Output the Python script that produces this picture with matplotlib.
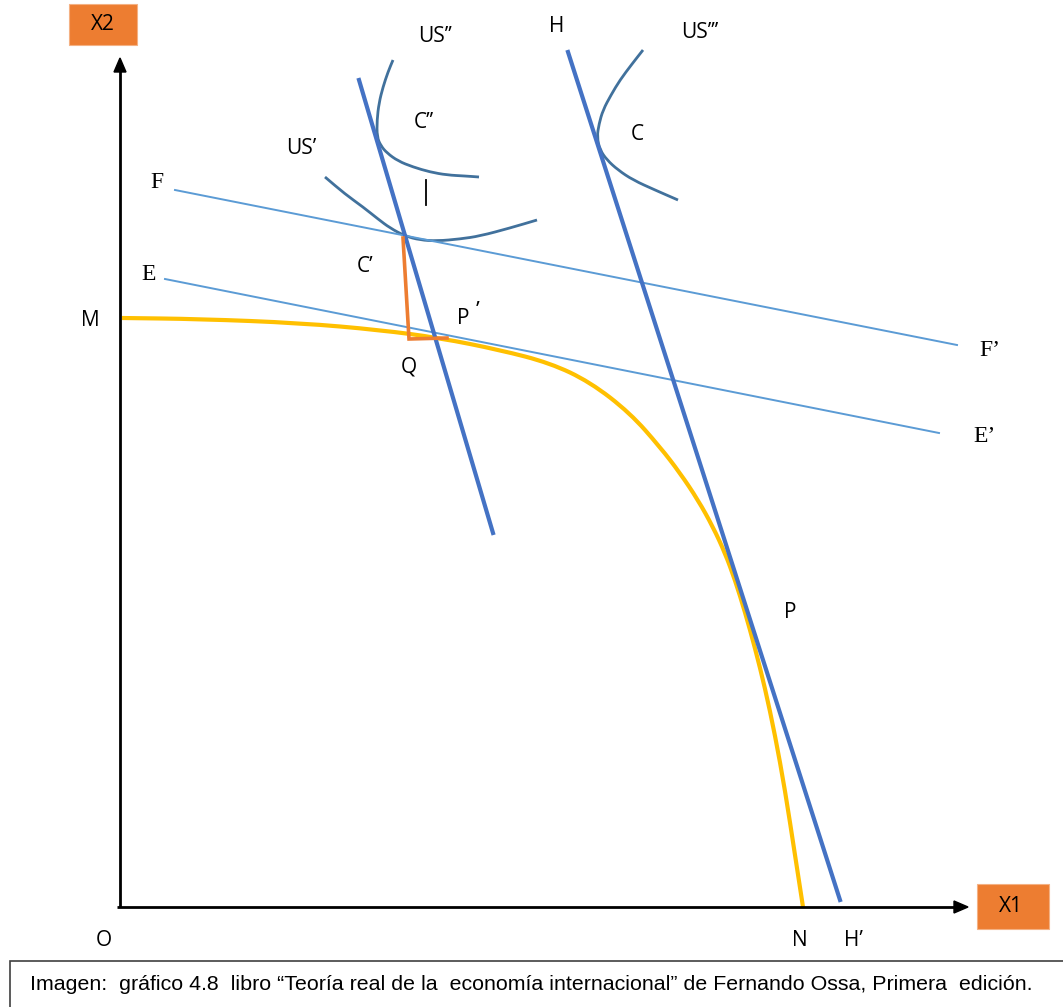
import matplotlib
matplotlib.use("Agg")
import matplotlib.pyplot as plt
from matplotlib.patches import Rectangle, PathPatch
from matplotlib.path import Path

# ---- data (pixel coordinates, y downward) ----
ppf_x = [122, 200, 300, 380, 440, 500, 550, 590, 630, 660, 680, 698, 713, 725, 735, 745, 755, 765, 775, 785, 795, 803]
ppf_y = [318, 319, 323, 330, 338, 350, 363, 382, 413, 447, 473, 500, 527, 553, 580, 612, 648, 688, 735, 790, 855, 907]

hh_x = [568, 840]
hh_y = [52, 900]
left_x = [359, 493]
left_y = [80, 533]

ff_x = [175, 957]
ff_y = [190, 345]
ee_x = [165, 939]
ee_y = [279, 433]

us1_x = [325, 345, 363, 378, 390, 405, 420, 437, 460, 480, 510, 537]
us1_y = [177, 194, 207, 219, 228, 236, 240, 241, 239, 236, 228, 220]
us2_x = [393, 388, 383, 379, 377, 377, 381, 387, 398, 413, 430, 447, 465, 479]
us2_y = [60, 72, 87, 103, 120, 137, 146, 153, 161, 167, 172, 175, 176, 177]
us3_x = [643, 632, 620, 611, 603, 599, 597, 600, 607, 618, 633, 655, 678]
us3_y = [50, 64, 80, 95, 110, 124, 137, 150, 160, 170, 180, 190, 200]

orange_x = [403, 409, 447]
orange_y = [238, 339, 338]

tick_x = [426, 426]
tick_y = [180, 205]

labels = [
    ("US\u2019\u2019", 435, 37), ("H", 557, 27), ("US\u2019\u2019\u2019", 700, 33),
    ("C\u2019\u2019", 424, 123), ("US\u2019", 301, 148), ("C", 637, 134),
    ("C\u2019", 365, 267), ("M", 90, 320), ("P", 463, 319), ("Q", 409, 367),
    ("P", 790, 612), ("O", 104, 940), ("N", 800, 940), ("H\u2019", 853, 940),
]
serif_labels = [("F", 157, 183), ("E", 149, 275), ("F\u2019", 990, 350), ("E\u2019", 984, 436)]
caption = "Imagen:  gr\u00e1fico 4.8  libro \u201cTeor\u00eda real de la  econom\u00eda internacional\u201d de Fernando Ossa, Primera  edici\u00f3n."

LABEL_FONT = ["Open Sans", "DejaVu Sans"]

W, H = 1063, 1007
fig = plt.figure(figsize=(W / 100, H / 100), dpi=100)
ax = fig.add_axes([0, 0, 1, 1])
ax.set_xlim(0, W)
ax.set_ylim(H, 0)
ax.axis("off")


def smooth(xs, ys, **kw):
    """Quadratic-Bezier path using the read points as its control polygon."""
    pts = list(zip(xs, ys))
    verts = [pts[0]]
    codes = [Path.MOVETO]
    mid = lambda a, b: ((a[0] + b[0]) / 2, (a[1] + b[1]) / 2)
    verts.append(mid(pts[0], pts[1]))
    codes.append(Path.LINETO)
    for i in range(1, len(pts) - 1):
        verts += [pts[i], mid(pts[i], pts[i + 1])]
        codes += [Path.CURVE3, Path.CURVE3]
    verts.append(pts[-1])
    codes.append(Path.LINETO)
    ax.add_patch(PathPatch(Path(verts, codes), facecolor="none", capstyle="butt", **kw))


# axes
ax.plot([120, 120], [907, 68], color="black", lw=2.0, solid_capstyle="butt")
ax.plot([117, 958], [907, 907], color="black", lw=2.0, solid_capstyle="butt")
ax.add_patch(plt.Polygon([[120, 58], [114, 72], [126, 72]], closed=True, color="black"))
ax.add_patch(plt.Polygon([[968, 907], [954, 901], [954, 913]], closed=True, color="black"))

# boxes
ax.add_patch(Rectangle((69, 4), 68, 41, facecolor="#ED7D31", edgecolor="#F4B183", lw=0.8))
ax.text(103, 25, "X2", ha="center", va="center", fontsize=15, family=LABEL_FONT)
ax.add_patch(Rectangle((977, 884), 72, 45, facecolor="#ED7D31", edgecolor="#F4B183", lw=0.8))
ax.text(1011, 906, "X1", ha="center", va="center", fontsize=15, family=LABEL_FONT)

# lines
ax.plot(ff_x, ff_y, color="#5B9BD5", lw=1.4)
ax.plot(ee_x, ee_y, color="#5B9BD5", lw=1.4)
smooth(ppf_x, ppf_y, edgecolor="#FFC000", lw=3.0)
ax.plot(hh_x, hh_y, color="#4472C4", lw=3.0)
ax.plot(left_x, left_y, color="#4472C4", lw=3.0)
for xs, ys in [(us1_x, us1_y), (us2_x, us2_y), (us3_x, us3_y)]:
    smooth(xs, ys, edgecolor="#41719C", lw=2.0)
ax.plot(orange_x, orange_y, color="#ED7D31", lw=2.6, solid_joinstyle="miter")
ax.plot(tick_x, tick_y, color="black", lw=1.3)

for t, x, y in labels:
    ax.text(x, y, t, ha="center", va="center", fontsize=15, family=LABEL_FONT)
ax.text(478, 312, "\u2019", ha="center", va="center", fontsize=16, family=LABEL_FONT)
for t, x, y in serif_labels:
    ax.text(x, y, t, ha="center", va="center", fontsize=17, family="Liberation Serif")

# caption box
ax.add_patch(Rectangle((10, 961), 1100, 80, facecolor="white", edgecolor="#404040", lw=1.2))
ax.text(30, 985, caption, ha="left", va="center", fontsize=15.4, family="Liberation Sans")

fig.savefig("out.png", dpi=100)
